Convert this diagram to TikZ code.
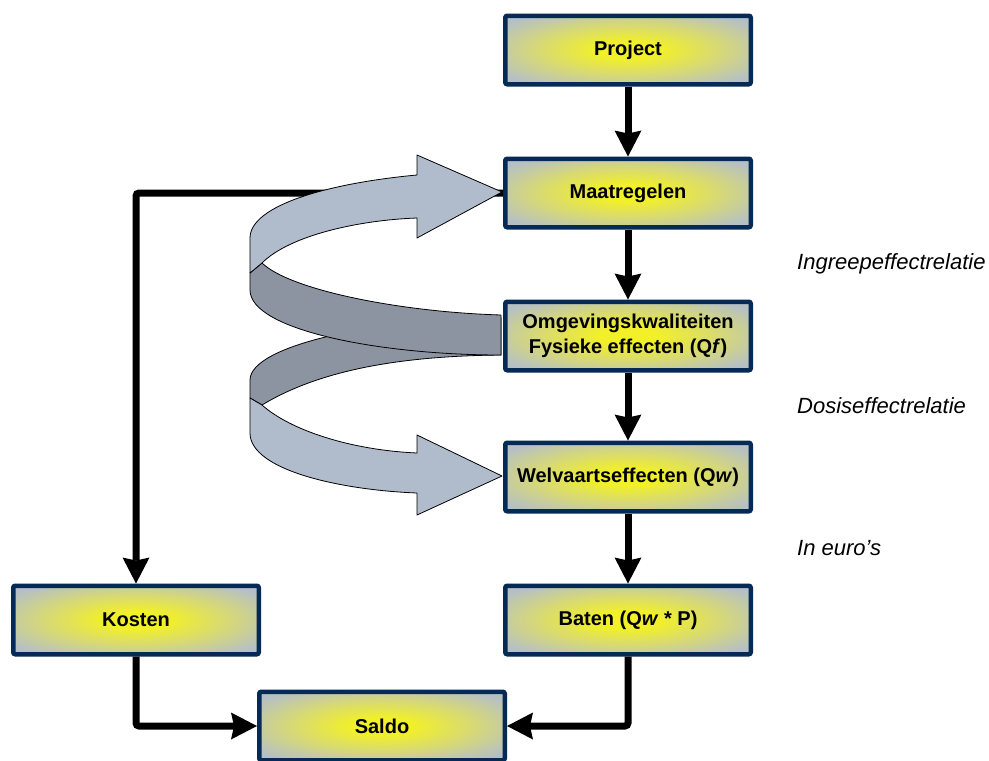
\documentclass[tikz,border=0pt]{standalone}
\usepackage{fontspec}
\setmainfont{Liberation Sans}
\usetikzlibrary{arrows.meta}
\definecolor{byel}{RGB}{242,240,40}
\definecolor{bmid}{RGB}{214,216,120}
\definecolor{bgrey}{RGB}{182,192,196}
\definecolor{bnavy}{RGB}{5,42,85}
\definecolor{ribl}{RGB}{176,188,204}
\definecolor{ribd}{RGB}{140,148,162}
\pgfdeclareradialshading{boxshade}{\pgfpoint{0bp}{0bp}}{color(0bp)=(byel); color(6bp)=(byel); color(19bp)=(bmid); color(31bp)=(bgrey); color(50bp)=(bgrey)}
\tikzset{
  box/.style={draw=bnavy, line width=4.5pt, rounded corners=2pt, shading=boxshade,
    minimum width=245.5pt, minimum height=68.5pt, inner sep=0pt, align=center,
    font=\fontsize{20}{25}\selectfont\bfseries},
  arr/.style={line width=7pt, rounded corners=3pt,
    -{Stealth[length=26pt,width=27pt,inset=3pt,line width=0pt]}},
  lab/.style={anchor=base west, inner sep=0pt, font=\fontsize{22}{26}\selectfont\itshape},
  ribbon/.style={draw=black, line width=0.8pt, line join=round}
}
\begin{document}
\begin{tikzpicture}[x=1pt, y=-1pt]
\useasboundingbox[fill=white] (0,0) rectangle (989,761);

\node[box] (project) at (628,50) {Project};
\node[box] (maat) at (628,193) {Maatregelen};
\node[box] (omg) at (628,336) {Omgevingskwaliteiten\\Fysieke effecten (Q\textit{f})};
\node[box] (welv) at (628,477) {Welvaartseffecten (Q\textit{w})};
\node[box] (baten) at (628,620) {Baten (Q\textit{w} * P)};
\node[box] (kosten) at (136,620) {Kosten};
\node[box] (saldo) at (382,726) {Saldo};

\node[lab] (ingreep) at (797,269) {Ingreepeffectrelatie};
\node[lab] (dosis) at (797,413) {Dosiseffectrelatie};
\node[lab] (euro) at (797,555) {In euro's};

\draw[arr] (project) -- (maat);
\draw[arr] (maat) -- (omg);
\draw[arr] (omg) -- (welv);
\draw[arr] (welv) -- (baten);
\draw[arr] (maat.west) -- (maat.west -| kosten.north) -- (kosten.north);
\draw[arr] (kosten.south) |- (saldo.west);
\draw[arr] (baten.south) |- (saldo.east);

% lower spiral, back part
\draw[ribbon, fill=ribd] (501,318) .. controls (380,318) and (250,345) .. (250,380)
  -- (250,398) -- (262,405) .. controls (320,370) and (400,356) .. (501,355) -- cycle;
% upper spiral, back part
\draw[ribbon, fill=ribd] (262,263) .. controls (290,290) and (400,312) .. (501,315)
  -- (501,355) .. controls (380,355) and (250,330) .. (250,290) -- (250,273) -- cycle;
% lower spiral, front part
\draw[ribbon, fill=ribl] (250,398) -- (250,433) .. controls (250,470) and (340,490) .. (417,493)
  -- (417,515) -- (502,476) -- (417,435) -- (417,453)
  .. controls (350,450) and (290,430) .. (262,405) -- cycle;
% upper spiral, front part
\draw[ribbon, fill=ribl] (417,175) .. controls (330,183) and (250,205) .. (250,238)
  -- (250,273) -- (262,263) .. controls (290,235) and (360,220) .. (417,218)
  -- (417,238) -- (502,192) -- (417,155) -- cycle;
\end{tikzpicture}
\end{document}
